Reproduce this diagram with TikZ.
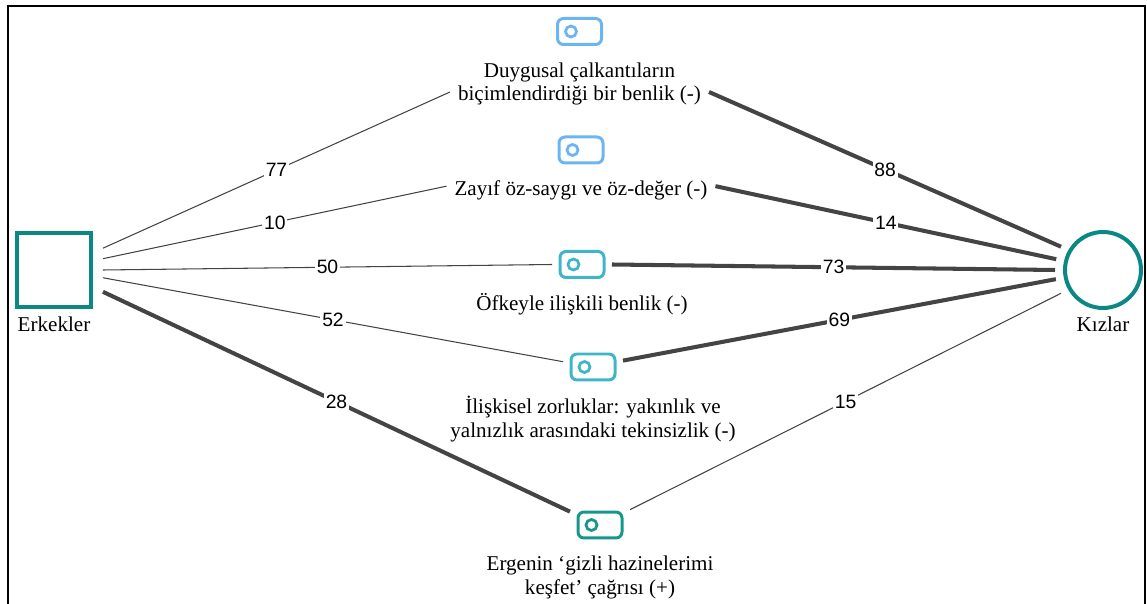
\documentclass[tikz,border=0pt]{standalone}
\usepackage{fontspec}
\setmainfont{Liberation Serif}
\newfontfamily\numfont{Liberation Sans}
\usetikzlibrary{positioning,calc}

\definecolor{grupteal}{HTML}{0B8784}
\definecolor{temablue}{HTML}{6BB5F2}
\definecolor{temacyan}{HTML}{40B5C8}
\definecolor{temateal}{HTML}{15978A}
\definecolor{kenar}{HTML}{444444}

\tikzset{
  tema/.style={draw=#1, line width=0.06cm, rounded corners=0.12cm,
    minimum width=0.88cm, minimum height=0.52cm, inner sep=0pt, outer sep=0.16cm,
    path picture={\draw[#1, line width=0.055cm]
      ($(path picture bounding box.center)+(-0.17cm,0)$) circle (0.11cm);}},
  lab/.style={align=center, inner sep=0pt, outer sep=0.16cm,
    font=\fontsize{12}{13.5}\selectfont},
  grup/.style={font=\fontsize{12}{13.5}\selectfont},
  wire/.style={draw=kenar, line width=0.6pt},
  wirethick/.style={draw=kenar, line width=2.3pt},
  num/.style={fill=white, inner sep=1pt, text=black,
    font=\numfont\fontsize{11}{13}\selectfont}
}

\begin{document}
\begin{tikzpicture}[x=0.02cm, y=-0.02cm]

      \useasboundingbox (0,0) rectangle (1147,604);
      \draw[line width=0.85pt] (8,604) -- (8,6) -- (1145,6) -- (1145,604);

      \node[draw=grupteal, line width=0.08cm, minimum size=1.5cm, inner sep=0pt,
        outer sep=0.23cm] at (54,270) (erk) {};
      \node[draw=grupteal, line width=0.08cm, circle, minimum size=1.52cm, inner sep=0pt,
        outer sep=0.2cm] at (1103,270) (kiz) {};
      \node[grup, below=-0.17cm of erk] (erklab) {Erkekler};
      \node[grup, below=-0.15cm of kiz] (kizlab) {Kızlar};

      \node[tema=temablue] at (579.5,31.5) (ic1) {};
      \node[tema=temablue] at (581,150) (ic2) {};
      \node[tema=temacyan] at (582,264.5) (ic3) {};
      \node[tema=temacyan] at (593,367) (ic4) {};
      \node[tema=temateal] at (600,525) (ic5) {};

      \node[lab, below=0pt of ic1] (lab1) {\strut Duygusal çalkantıların\\biçimlendirdiği bir benlik (-)};
      \node[lab, below=0pt of ic2] (lab2) {\strut Zayıf öz-saygı ve öz-değer (-)};
      \node[lab, below=0pt of ic3] (lab3) {\strut Öfkeyle ilişkili benlik (-)};
      \node[lab, below=0pt of ic4] (lab4) {\strut İlişkisel zorluklar: yakınlık ve\\yalnızlık arasındaki tekinsizlik (-)};
      \node[lab, below=0pt of ic5] (lab5) {\strut Ergenin ‘gizli hazinelerimi\\keşfet’ çağrısı (+)};

      % Erkekler
      \draw[wire] (erk.24) -- node[num] {77} (lab1.184);
      \draw[wire] (erk.13) -- node[num] {10} (lab2.178);
      \draw[wire] (erk.east) -- node[num] {50} (ic3.west);
      \draw[wire] (erk.351) -- node[num] {52} (ic4.170);
      \draw[wirethick] (erk.336) -- node[num] {28} (ic5.156);

      % Kizlar
      \draw[wirethick] (lab1.356) -- node[num] {88} (kiz.151);
      \draw[wirethick] (lab2.2) -- node[num] {14} (kiz.167);
      \draw[wirethick] (ic3.east) -- node[num] {73} (kiz.west);
      \draw[wirethick] (ic4.12) -- node[num] {69} (kiz.191);
      \draw[wire] (ic5.27) -- node[num] {15} (kiz.209);
    \end{tikzpicture}
\end{document}
